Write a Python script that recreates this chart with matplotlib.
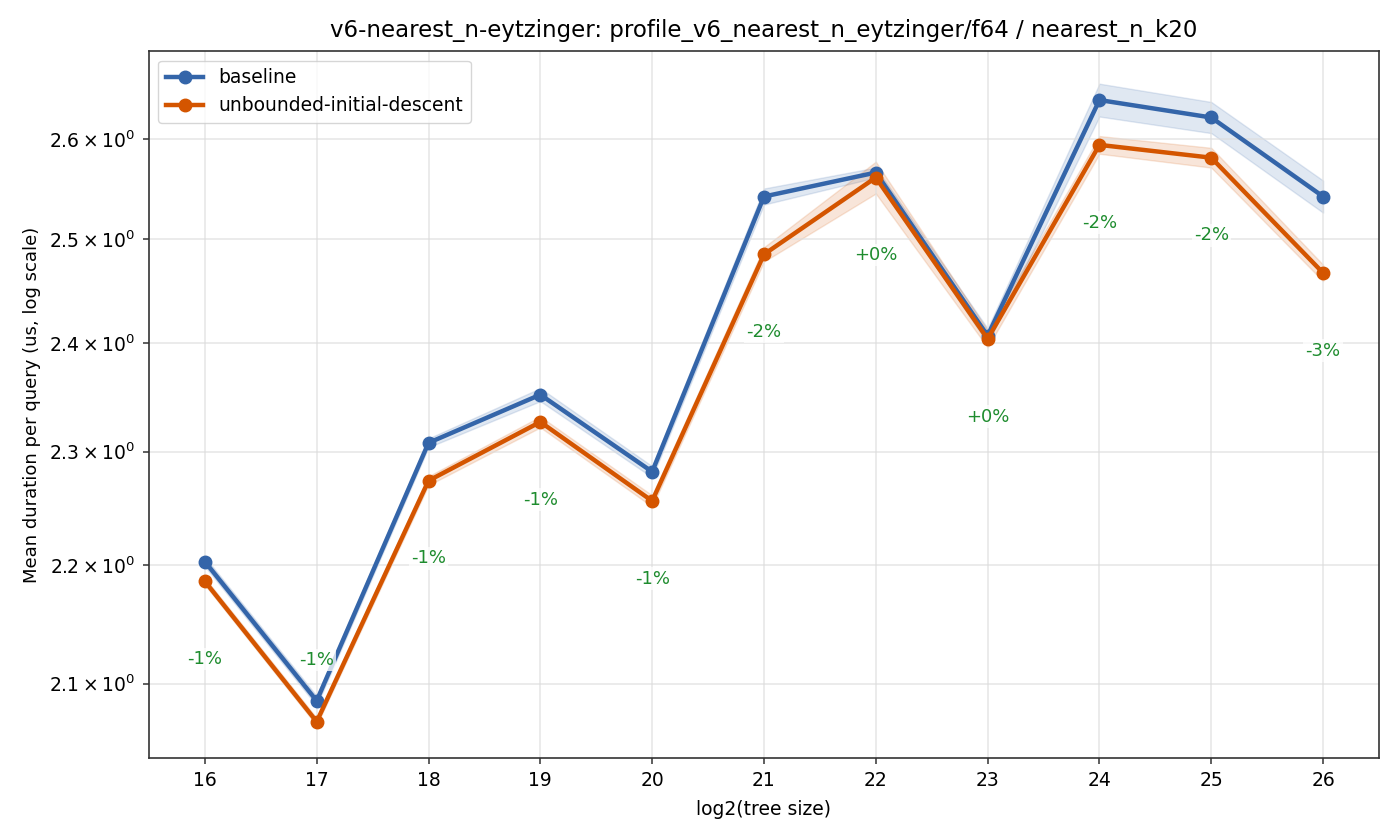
import matplotlib
matplotlib.use("Agg")
import matplotlib.pyplot as plt
import numpy as np

sizes = [16, 17, 18, 19, 20, 21, 22, 23, 24, 25, 26]
baseline = [2.203, 2.086, 2.308, 2.352, 2.282, 2.542, 2.566, 2.407, 2.640, 2.622, 2.542]
baseline_err = [0.004, 0.004, 0.004, 0.006, 0.005, 0.008, 0.005, 0.007, 0.017, 0.016, 0.016]
treatment = [2.186, 2.069, 2.274, 2.327, 2.256, 2.485, 2.561, 2.404, 2.594, 2.581, 2.467]
treatment_err = [0.003, 0.003, 0.004, 0.005, 0.005, 0.007, 0.016, 0.008, 0.009, 0.010, 0.008]
pct_labels = ['-1%', '-1%', '-1%', '-1%', '-1%', '-2%', '+0%', '+0%', '-2%', '-2%', '-3%']

blue = '#3465a9'
orange = '#d45500'

fig, ax = plt.subplots(figsize=(14, 8.4), dpi=100)
fig.subplots_adjust(left=0.1064, right=0.985, top=0.939, bottom=0.098)

x = np.array(sizes)
for vals, err, col, name in [(baseline, baseline_err, blue, 'baseline'),
                             (treatment, treatment_err, orange, 'unbounded-initial-descent')]:
    v = np.array(vals)
    e = np.array(err)
    ax.fill_between(x, v - e, v + e, color=col, alpha=0.15, lw=1)
    ax.plot(x, v, '-o', color=col, lw=3.2, ms=9, label=name)

ax.set_yscale('log')
ylo, yhi = 2.040, 2.691
ax.set_ylim(ylo, yhi)
ax.set_xlim(15.5, 26.5)

for xi, t, lab in zip(sizes, treatment, pct_labels):
    ly = t * 0.97
    if ly < ylo:
        ly = ylo * 1.039
    ax.text(xi, ly, lab, color='#1e8c2e', ha='center', va='center', fontsize=13,
            bbox=dict(facecolor='white', edgecolor='none', alpha=0.75, pad=1.5))

ax.set_xticks(sizes)
ax.set_yticks([2.1, 2.2, 2.3, 2.4, 2.5, 2.6], minor=True)
ax.set_yticklabels([r'$2.1\times10^{0}$', r'$2.2\times10^{0}$', r'$2.3\times10^{0}$',
                    r'$2.4\times10^{0}$', r'$2.5\times10^{0}$', r'$2.6\times10^{0}$'], minor=True)
ax.tick_params(labelsize=13.5, which='both', color='#333333', width=1.1, length=4.5, pad=5)
ax.grid(True, which='both', color='#dddddd', lw=1.1, alpha=0.75)
for sp in ax.spines.values():
    sp.set_color('#333333')
    sp.set_linewidth(1.2)

ax.set_xlabel('log2(tree size)', fontsize=13.5, labelpad=7)
ax.set_ylabel('Mean duration per query (us, log scale)', fontsize=13, labelpad=6)
ax.set_title('v6-nearest_n-eytzinger: profile_v6_nearest_n_eytzinger/f64 / nearest_n_k20',
             fontsize=16.5, pad=10)
ax.legend(loc='upper left', fontsize=13.5)

fig.savefig('out.png')
